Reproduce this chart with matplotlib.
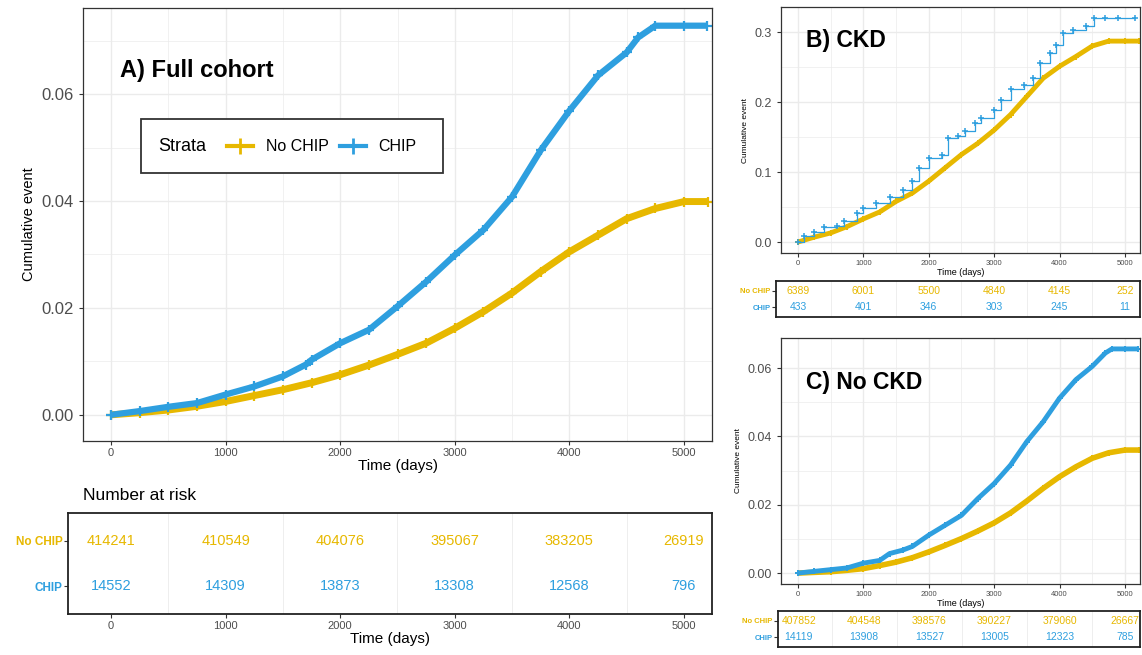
import matplotlib.pyplot as plt
from matplotlib.lines import Line2D
from matplotlib.patches import Rectangle

plt.rcParams['font.family'] = ['Liberation Sans', 'DejaVu Sans']

GOLD = '#E7B800'
BLUE = '#2E9FDF'

risk_times = [0, 1000, 2000, 3000, 4000, 5000]

# A) full cohort (cumulative event read off the picture)
a_t = [0, 250, 500, 750, 1000, 1250, 1500, 1750, 2000, 2250, 2500, 2750, 3000,
       3250, 3500, 3750, 4000, 4250, 4500, 4750, 5000, 5210]
a_nochip = [0, 0.0004, 0.0009, 0.0016, 0.0025, 0.0036, 0.0047, 0.0060, 0.0075,
            0.0093, 0.0113, 0.0134, 0.0162, 0.0193, 0.0228, 0.0268, 0.0305,
            0.0336, 0.0367, 0.0386, 0.0399, 0.0399]
a_chip_t = [0, 250, 500, 750, 1000, 1250, 1500, 1700, 1750, 2000, 2250, 2500,
            2750, 3000, 3250, 3500, 3750, 4000, 4250, 4500, 4600, 4750, 5000, 5200]
a_chip = [0, 0.0007, 0.0015, 0.0022, 0.0038, 0.0053, 0.0072, 0.0094, 0.0103,
          0.0134, 0.0159, 0.0203, 0.0249, 0.0299, 0.0346, 0.0408, 0.0495,
          0.0569, 0.0635, 0.0678, 0.0706, 0.0728, 0.0728, 0.0728]
a_risk_nochip = [414241, 410549, 404076, 395067, 383205, 26919]
a_risk_chip = [14552, 14309, 13873, 13308, 12568, 796]

# B) CKD
b_t = [0, 250, 500, 750, 1000, 1250, 1500, 1750, 2000, 2250, 2500, 2750, 3000,
       3250, 3500, 3750, 4000, 4250, 4500, 4750, 5000, 5210]
b_nochip = [0, 0.007, 0.013, 0.022, 0.033, 0.043, 0.058, 0.070, 0.087, 0.106,
            0.125, 0.141, 0.160, 0.182, 0.208, 0.234, 0.251, 0.265, 0.280,
            0.287, 0.287, 0.287]
b_chip_t = [0, 100, 250, 400, 600, 700, 900, 1000, 1200, 1400, 1600, 1750, 1850,
            2000, 2200, 2300, 2450, 2550, 2700, 2800, 3000, 3100, 3250, 3450,
            3600, 3700, 3850, 3950, 4050, 4200, 4400, 4530, 4700, 4900, 5150]
b_chip = [0, 0.008, 0.015, 0.021, 0.023, 0.030, 0.041, 0.049, 0.056, 0.065,
          0.075, 0.087, 0.106, 0.120, 0.125, 0.149, 0.151, 0.158, 0.170, 0.177,
          0.189, 0.203, 0.218, 0.225, 0.234, 0.256, 0.270, 0.282, 0.299, 0.303,
          0.308, 0.320, 0.320, 0.320, 0.320]
b_risk_nochip = [6389, 6001, 5500, 4840, 4145, 252]
b_risk_chip = [433, 401, 346, 303, 245, 11]

# C) No CKD
c_t = [0, 250, 500, 750, 1000, 1250, 1500, 1750, 2000, 2250, 2500, 2750, 3000,
       3250, 3500, 3750, 4000, 4250, 4500, 4750, 5000, 5210]
c_nochip = [0, 0.0002, 0.0004, 0.0008, 0.0013, 0.0022, 0.0032, 0.0045, 0.0062,
            0.0081, 0.0101, 0.0123, 0.0147, 0.0176, 0.0211, 0.0248, 0.0282,
            0.0311, 0.0336, 0.0352, 0.0360, 0.0360]
c_chip_t = [0, 250, 500, 750, 1000, 1250, 1400, 1600, 1750, 2000, 2250, 2500,
            2750, 3000, 3250, 3500, 3750, 4000, 4250, 4500, 4700, 4800, 5000, 5200]
c_chip = [0, 0.0005, 0.0010, 0.0015, 0.0029, 0.0037, 0.0057, 0.0067, 0.0078,
          0.0111, 0.0140, 0.0169, 0.0218, 0.0262, 0.0316, 0.0385, 0.0443,
          0.0512, 0.0566, 0.0605, 0.0644, 0.0656, 0.0656, 0.0656]
c_risk_nochip = [407852, 404548, 398576, 390227, 379060, 26667]
c_risk_chip = [14119, 13908, 13527, 13005, 12323, 785]

minor_x = [500, 1500, 2500, 3500, 4500]


def style_km(ax, xlim, ylim, yticks, yminor, ylabels, ytick_fs, xtick_fs, lab_fs, ylab_fs):
    ax.set_xlim(xlim)
    ax.set_ylim(ylim)
    ax.set_xticks(risk_times)
    ax.set_xticks(minor_x, minor=True)
    ax.set_yticks(yticks)
    ax.set_yticklabels(ylabels)
    ax.set_yticks(yminor, minor=True)
    ax.grid(which='major', color='#EBEBEB', lw=1.0)
    ax.grid(which='minor', color='#EBEBEB', lw=0.5)
    ax.set_axisbelow(True)
    ax.tick_params(which='minor', length=0)
    ax.tick_params(axis='y', labelsize=ytick_fs, colors='#333333', labelcolor='#4D4D4D', length=3)
    ax.tick_params(axis='x', labelsize=xtick_fs, colors='#333333', labelcolor='#4D4D4D', length=3, pad=2)
    ax.set_xlabel('Time (days)', fontsize=lab_fs, labelpad=1)
    ax.set_ylabel('Cumulative event', fontsize=ylab_fs)
    for s in ax.spines.values():
        s.set_color('#333333')
        s.set_linewidth(0.9)


def risk_table(ax, xlim, nochip, chip, num_fs, lab_fs, show_x):
    ax.set_xlim(xlim)
    ax.set_ylim(0.4, 2.6)
    for t, n in zip(risk_times, nochip):
        ax.text(t, 2, str(n), color=GOLD, ha='center', va='center', fontsize=num_fs)
    for t, n in zip(risk_times, chip):
        ax.text(t, 1, str(n), color=BLUE, ha='center', va='center', fontsize=num_fs)
    ax.set_yticks([1, 2])
    ax.set_yticklabels(['CHIP', 'No CHIP'], fontweight='bold', fontsize=lab_fs)
    ax.set_xticks(minor_x, minor=True)
    ax.grid(which='minor', axis='x', color='#EBEBEB', lw=0.6)
    ax.set_axisbelow(True)
    ax.tick_params(which='minor', length=0)
    ax.tick_params(axis='y', colors='#333333', length=3, pad=1)
    if show_x:
        ax.set_xticks(risk_times)
        ax.tick_params(axis='x', labelsize=8, colors='#333333', labelcolor='#4D4D4D', length=3, pad=2)
        ax.set_xlabel('Time (days)', fontsize=11, labelpad=1)
    else:
        ax.set_xticks([])
    for s in ax.spines.values():
        s.set_color('#222222')
        s.set_linewidth(1.3)
    for lab, c in zip(ax.get_yticklabels(), [BLUE, GOLD]):
        lab.set_color(c)


fig = plt.figure(figsize=(11.42, 6.55), dpi=100)

# ---- panel A ----
ax_a = fig.add_axes([0.0727, 0.3267, 0.5508, 0.661])
ax_a.plot(a_t, a_nochip, color=GOLD, lw=5, solid_capstyle='butt')
ax_a.plot(a_t, a_nochip, '+', color=GOLD, ms=7, mew=1.6)
ax_a.plot(a_chip_t, a_chip, color=BLUE, lw=4.5, solid_capstyle='butt')
ax_a.plot(a_chip_t, a_chip, '+', color=BLUE, ms=7, mew=1.6)
style_km(ax_a, (-245, 5245), (-0.0049, 0.0761), [0, 0.02, 0.04, 0.06],
         [0.01, 0.03, 0.05, 0.07], ['0.00', '0.02', '0.04', '0.06'], 12, 8, 11, 10.5)
ax_a.text(0.058, 0.855, 'A) Full cohort', transform=ax_a.transAxes,
          fontsize=17, fontweight='bold', va='center')

# legend drawn by hand (title on the left like ggplot)
ax_a.add_patch(Rectangle((0.092, 0.619), 0.48, 0.125, transform=ax_a.transAxes,
                         fill=True, facecolor='white', edgecolor='#333333', lw=1.3, zorder=5))
ax_a.text(0.119, 0.681, 'Strata', transform=ax_a.transAxes, fontsize=13, va='center', zorder=6)
for x0, col, lab in [(0.229, GOLD, 'No CHIP'), (0.408, BLUE, 'CHIP')]:
    ax_a.add_line(Line2D([x0, x0 + 0.042], [0.681, 0.681], transform=ax_a.transAxes,
                         color=col, lw=3, zorder=6))
    ax_a.add_line(Line2D([x0 + 0.021], [0.681], transform=ax_a.transAxes, marker='+',
                         color=col, ms=11, mew=2, zorder=6))
    ax_a.text(x0 + 0.062, 0.681, lab, transform=ax_a.transAxes, fontsize=11.5, va='center', zorder=6)

tab_a = fig.add_axes([0.0595, 0.0626, 0.5639, 0.154])
risk_table(tab_a, (-376, 5245), a_risk_nochip, a_risk_chip, 10.5, 8.5, True)
fig.text(0.0727, 0.244, 'Number at risk', fontsize=12.5, va='center')

# ---- panel B ----
ax_b = fig.add_axes([0.6839, 0.6137, 0.3143, 0.3756])
ax_b.plot(b_t, b_nochip, color=GOLD, lw=3.5, solid_capstyle='butt')
ax_b.plot(b_t, b_nochip, '+', color=GOLD, ms=5, mew=1.4)
ax_b.step(b_chip_t, b_chip, where='post', color=BLUE, lw=0.9)
ax_b.plot(b_chip_t, b_chip, '+', color=BLUE, ms=4.5, mew=1.1)
style_km(ax_b, (-259, 5229), (-0.0157, 0.3357), [0, 0.1, 0.2, 0.3],
         [0.05, 0.15, 0.25], ['0.0', '0.1', '0.2', '0.3'], 9, 5.5, 6.5, 6)
ax_b.text(0.07, 0.865, 'B) CKD', transform=ax_b.transAxes, fontsize=16.5,
          fontweight='bold', va='center')

tab_b = fig.add_axes([0.6795, 0.516, 0.3187, 0.055])
risk_table(tab_b, (-335, 5229), b_risk_nochip, b_risk_chip, 7.5, 5.5, False)

# ---- panel C ----
ax_c = fig.add_axes([0.6839, 0.1084, 0.3143, 0.3756])
ax_c.plot(c_t, c_nochip, color=GOLD, lw=4, solid_capstyle='butt')
ax_c.plot(c_t, c_nochip, '+', color=GOLD, ms=5, mew=1.4)
ax_c.plot(c_chip_t, c_chip, color=BLUE, lw=3.5, solid_capstyle='butt')
ax_c.plot(c_chip_t, c_chip, '+', color=BLUE, ms=5, mew=1.4)
style_km(ax_c, (-259, 5229), (-0.0032, 0.0688), [0, 0.02, 0.04, 0.06],
         [0.01, 0.03, 0.05], ['0.00', '0.02', '0.04', '0.06'], 9, 5.5, 6.5, 6)
ax_c.text(0.07, 0.82, 'C) No CKD', transform=ax_c.transAxes, fontsize=16.5,
          fontweight='bold', va='center')

tab_c = fig.add_axes([0.6813, 0.0122, 0.3169, 0.055])
risk_table(tab_c, (-320, 5229), c_risk_nochip, c_risk_chip, 7.5, 5.5, False)

fig.savefig('out.png', dpi=100)
